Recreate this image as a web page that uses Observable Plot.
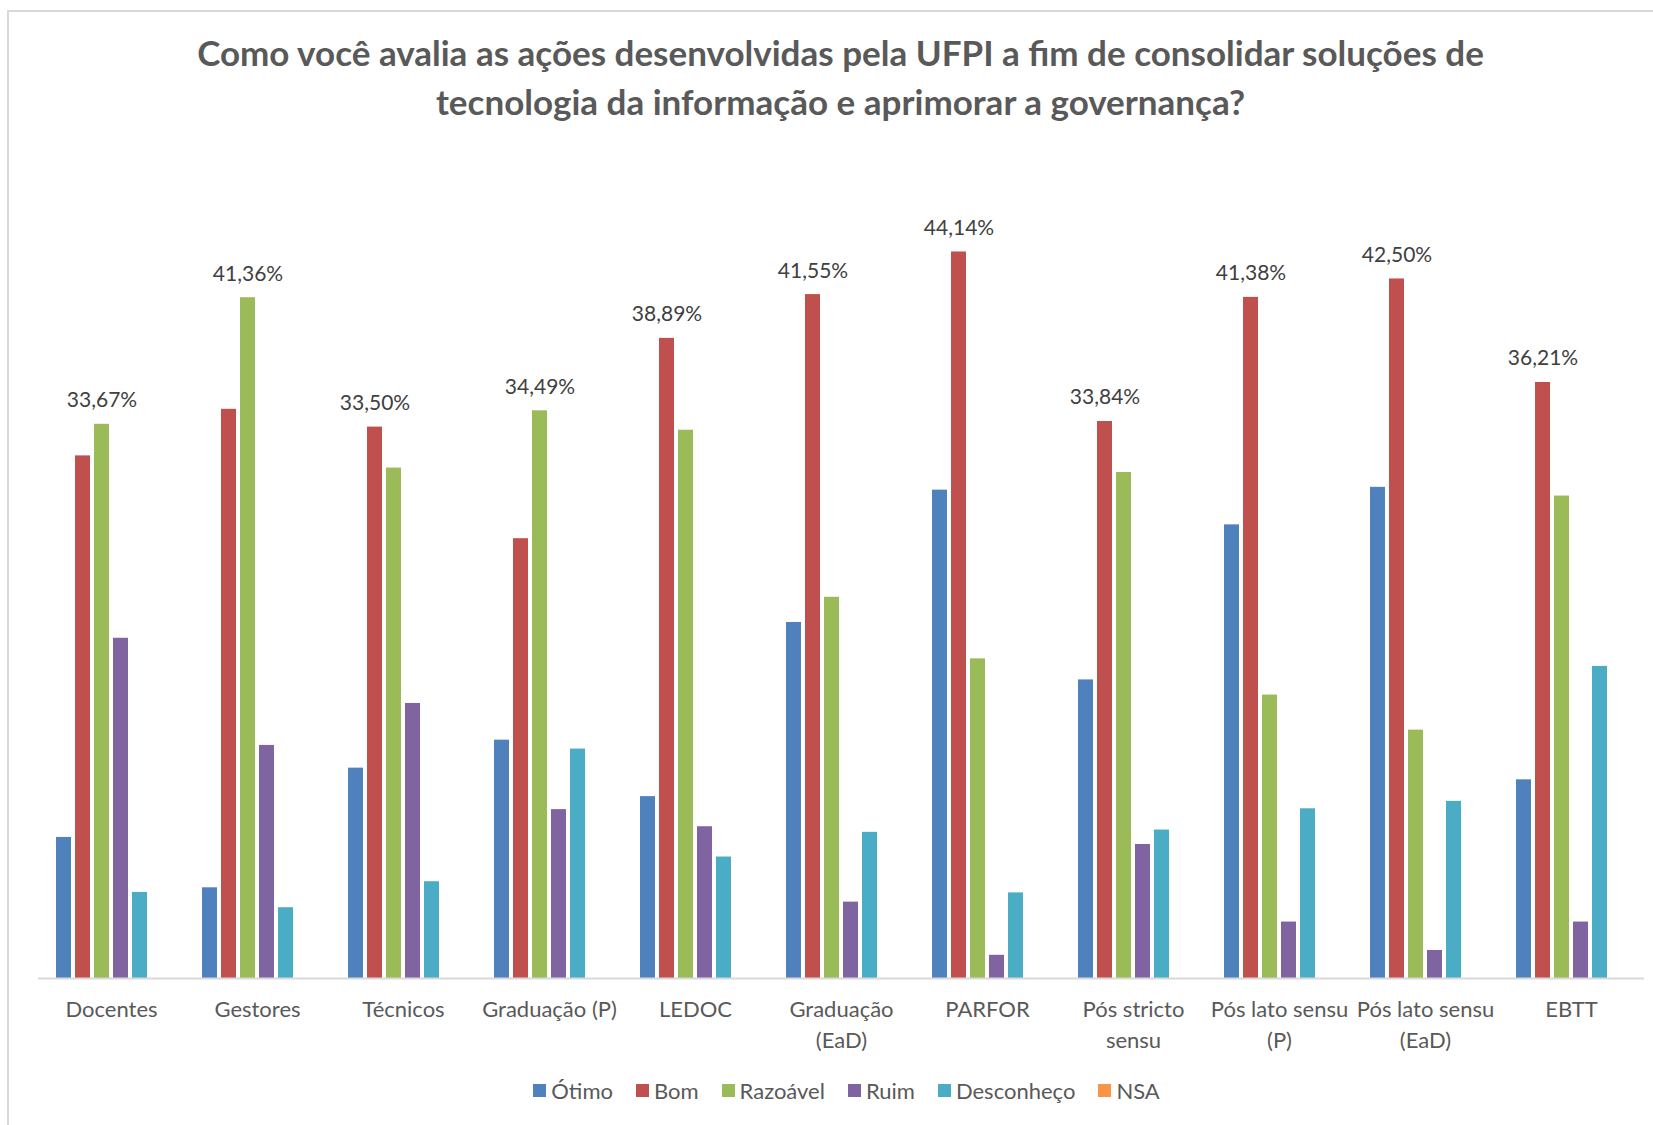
<!DOCTYPE html>
<html><head><meta charset="utf-8">
<script src="https://cdn.jsdelivr.net/npm/d3@7"></script>
<script src="https://cdn.jsdelivr.net/npm/@observablehq/plot@0.6"></script>
<style>
body{margin:0;background:#fff;width:1653px;height:1125px;overflow:hidden;position:relative;font-family:Lato,"Open Sans",sans-serif;}
#frame{position:absolute;left:7px;top:10px;width:1660px;height:1130px;border:2px solid #d9d9d9;box-sizing:border-box;}
#title{position:absolute;left:37px;width:1607px;top:28px;text-align:center;font-weight:bold;font-size:35px;line-height:49px;color:#595959;}
#chart{position:absolute;left:0;top:130px;}
#legend{position:absolute;left:43px;width:1607px;top:1074px;}
#legend > div{justify-content:center;margin:0 !important;}
#legend [class$="-swatch"]{margin-right:23px !important;}
#legend [class$="-swatch"]:last-child{margin-right:0 !important;}
#legend [class$="-swatch"] > svg{margin-right:5px !important;}
</style></head><body>
<div id="frame"></div>
<div id="title">Como você avalia as ações desenvolvidas pela UFPI a fim de consolidar soluções de<br>tecnologia da informação e aprimorar a governança?</div>
<div id="chart"></div>
<div id="legend"></div>
<script>
const categories = ["Docentes","Gestores","Técnicos","Graduação (P)","LEDOC","Graduação (EaD)","PARFOR","Pós stricto sensu","Pós lato sensu (P)","Pós lato sensu (EaD)","EBTT"];
const tickLabels = ["Docentes","Gestores","Técnicos","Graduação (P)","LEDOC","Graduação\n(EaD)","PARFOR","Pós stricto\nsensu","Pós lato sensu\n(P)","Pós lato sensu\n(EaD)","EBTT"];
const series = ["Ótimo","Bom","Razoável","Ruim","Desconheço","NSA"];
const colors = ["#4F81BD","#C0504D","#9BBB59","#8064A2","#4BACC6","#F79646"];
const otimo      = [8.57, 5.51, 12.78, 14.48, 11.05, 21.63, 29.67, 18.14, 27.56, 29.84, 12.07];
const bom        = [31.75, 34.58, 33.50, 26.72, 38.89, 41.55, 44.14, 33.84, 41.38, 42.50, 36.21];
const razoavel   = [33.67, 41.36, 31.01, 34.49, 33.31, 23.16, 19.42, 30.74, 17.22, 15.09, 29.31];
const ruim       = [20.67, 14.16, 16.71, 10.26, 9.22, 4.64, 1.41, 8.14, 3.43, 1.70, 3.43];
const desconheco = [5.23, 4.30, 5.88, 13.94, 7.38, 8.88, 5.20, 9.02, 10.31, 10.76, 18.96];
const nsa        = [0, 0, 0, 0, 0, 0, 0, 0, 0, 0, 0];

const values = [otimo, bom, razoavel, ruim, desconheco, nsa];
const rows = [];
categories.forEach((c, i) => series.forEach((s, j) => rows.push({cat: c, series: s, value: values[j][i]})));
const maxByCat = d3.rollup(rows, v => d3.max(v, d => d.value), d => d.cat);
const labeled = rows.filter(d => d.value === maxByCat.get(d.cat));
const fmt = v => v.toFixed(2).replace(".", ",") + "%";

const chart = Plot.plot({
  width: 1653, height: 940,
  marginLeft: 37, marginRight: 8.4, marginTop: 25, marginBottom: 92,
  style: {fontFamily: "Lato, sans-serif", color: "#595959", background: "transparent"},
  fx: {domain: categories, padding: 0, label: null, axis: null},
  x: {domain: series, paddingInner: 0.22, paddingOuter: 0.886, axis: null},
  y: {domain: [0, 50], axis: null},
  color: {domain: series, range: colors},
  marks: [
    Plot.barY(rows, {fx: "cat", x: "series", y: "value", fill: "series"}),
    Plot.text(labeled, {fx: "cat", x: "series", y: "value", text: d => fmt(d.value), dy: -17, lineAnchor: "bottom", fontSize: 21, fill: "#404040"}),
    Plot.ruleY([0], {stroke: "#d9d9d9", strokeWidth: 2}),
    Plot.axisFx({anchor: "bottom", tickSize: 0, tickPadding: 17, fontSize: 22, lineHeight: 1.39, tickFormat: d => tickLabels[categories.indexOf(d)], label: null})
  ]
});
document.getElementById("chart").appendChild(chart);

const leg = Plot.legend({
  color: {domain: series, range: colors},
  legend: "swatches",
  swatchSize: 13,
  style: {fontSize: "22px", fontFamily: "Lato, sans-serif", color: "#595959"}
});
document.getElementById("legend").appendChild(leg);
</script>
</body></html>
